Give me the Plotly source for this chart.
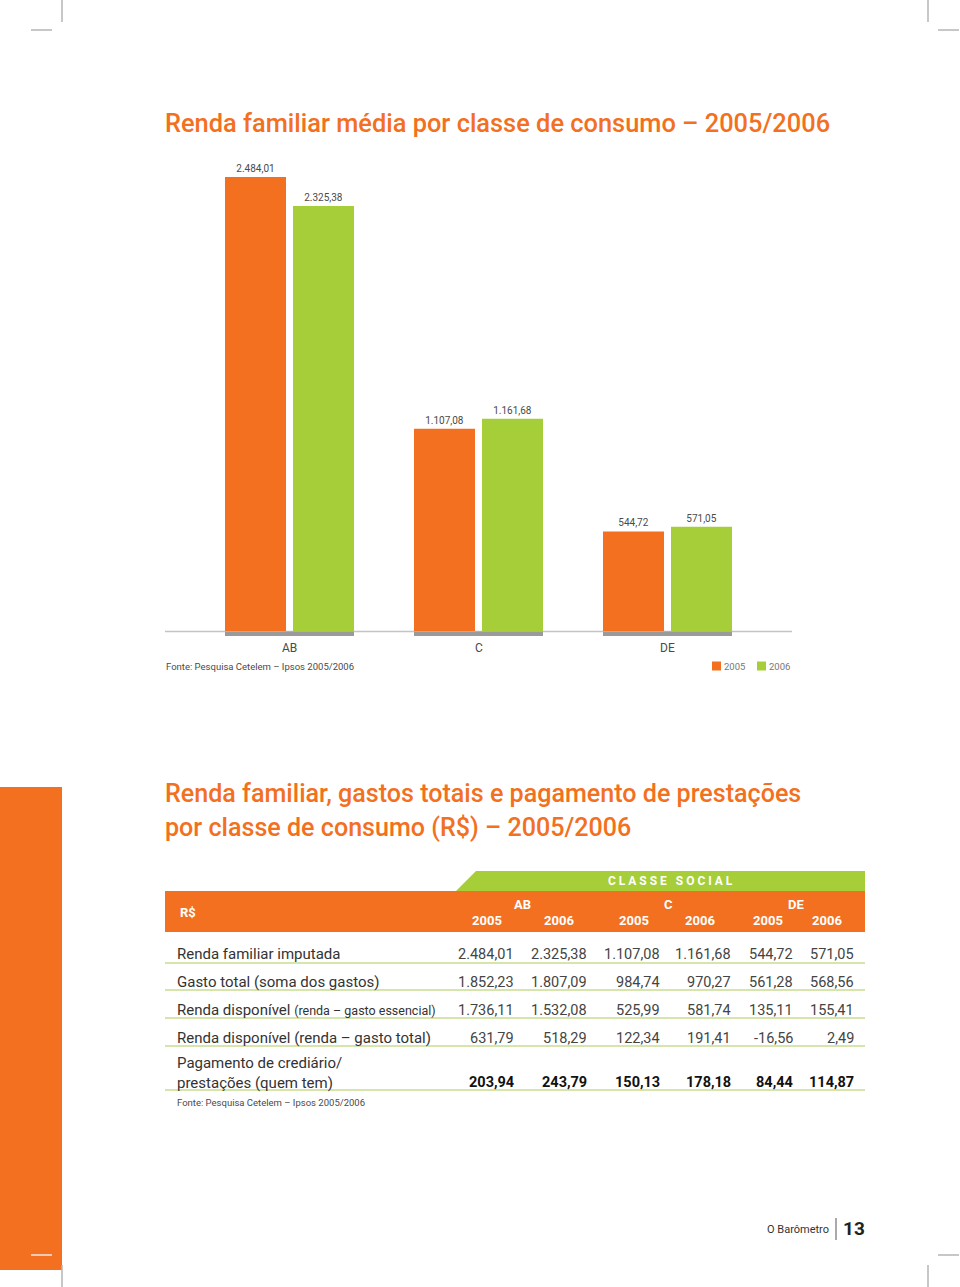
import plotly.graph_objects as go

W, H = 960, 1287
ORANGE = "#F37021"
GREEN = "#A6CE39"
GREY_TXT = "#4a4a4a"
FONT = "Roboto"

# ---- data: bar chart ----
classes = ["AB", "C", "DE"]
years = ["2005", "2006"]
renda_2005 = [2484.01, 1107.08, 544.72]
renda_2006 = [2325.38, 1161.68, 571.05]

# ---- data: table ----
row_labels = [
    "Renda familiar imputada",
    "Gasto total (soma dos gastos)",
    "Renda disponível <span style='font-size:12.5px'>(renda – gasto essencial)</span>",
    "Renda disponível (renda – gasto total)",
    "Pagamento de crediário/<br>prestações (quem tem)",
]
ab_2005 = [2484.01, 1852.23, 1736.11, 631.79, 203.94]
ab_2006 = [2325.38, 1807.09, 1532.08, 518.29, 243.79]
c_2005 = [1107.08, 984.74, 525.99, 122.34, 150.13]
c_2006 = [1161.68, 970.27, 581.74, 191.41, 178.18]
de_2005 = [544.72, 561.28, 135.11, -16.56, 84.44]
de_2006 = [571.05, 568.56, 155.41, 2.49, 114.87]
source = "Fonte: Pesquisa Cetelem – Ipsos 2005/2006"


def br(v):
    s = f"{abs(v):,.2f}"
    s = s.replace(",", "X").replace(".", ",").replace("X", ".")
    return ("-" if v < 0 else "") + s


def px(x):
    return x / W


def py(y):
    return 1 - y / H


fig = go.Figure()

# bar geometry (category units: 1 unit = 189 px)
bw = 61 / 189
off05 = -64.5 / 189
off06 = 3.5 / 189

fig.add_trace(go.Bar(
    x=list(range(len(classes))), y=renda_2005, name=years[0],
    marker=dict(color=ORANGE, line=dict(width=0)),
    width=bw, offset=off05,
    text=[br(v) for v in renda_2005], textposition="outside",
    textfont=dict(family=FONT, size=10, color=GREY_TXT), cliponaxis=False,
    showlegend=False,
))
fig.add_trace(go.Bar(
    x=list(range(len(classes))), y=renda_2006, name=years[1],
    marker=dict(color=GREEN, line=dict(width=0)),
    width=bw, offset=off06,
    text=[br(v) for v in renda_2006], textposition="outside",
    textfont=dict(family=FONT, size=10, color=GREY_TXT), cliponaxis=False,
    showlegend=False,
))

y_top_px, y_base_px = 150, 631
scale = (631 - 177) / 2484.01
ymax = (y_base_px - y_top_px) / scale

shapes = []
annotations = []

# grey bands under groups
for i in range(len(classes)):
    shapes.append(dict(type="rect", xref="x", yref="paper",
                       x0=i + off05, x1=i + off06 + bw,
                       y0=py(636), y1=py(631.5), fillcolor="#9a9a9a", line=dict(width=0)))

# axis line
shapes.append(dict(type="line", xref="paper", yref="paper", x0=px(165), x1=px(792),
                   y0=py(631.5), y1=py(631.5), line=dict(color="#c4c4c4", width=1.5), layer="below"))

# category labels
for i, c in enumerate(classes):
    annotations.append(dict(x=i, xref="x", y=py(648), yref="paper", text=c, showarrow=False,
                            font=dict(family=FONT, size=12, color=GREY_TXT), xanchor="center", yanchor="middle"))

# chart source + legend
annotations.append(dict(x=px(164), y=py(666), xref="paper", yref="paper", text=source, showarrow=False,
                        xanchor="left", yanchor="middle", font=dict(family=FONT, size=9.5, color=GREY_TXT)))
for col, lx, yr in [(ORANGE, 712, years[0]), (GREEN, 757, years[1])]:
    shapes.append(dict(type="rect", xref="paper", yref="paper", x0=px(lx), x1=px(lx + 9),
                       y0=py(670.5), y1=py(661.5), fillcolor=col, line=dict(width=0)))
    annotations.append(dict(x=px(lx + 10), y=py(666), xref="paper", yref="paper", text=yr, showarrow=False,
                            xanchor="left", yanchor="middle", font=dict(family=FONT, size=9.5, color="#777")))

# titles
title_font = dict(family=FONT, size=25.4, color=ORANGE, weight=500)
title_font2 = dict(family=FONT, size=25.1, color=ORANGE, weight=500)
annotations.append(dict(x=px(163), y=py(123), xref="paper", yref="paper",
                        text="Renda familiar média por classe de consumo – 2005/2006", showarrow=False,
                        xanchor="left", yanchor="middle", font=title_font))
annotations.append(dict(x=px(163), y=py(793), xref="paper", yref="paper",
                        text="Renda familiar, gastos totais e pagamento de prestações", showarrow=False,
                        xanchor="left", yanchor="middle", font=title_font2))
annotations.append(dict(x=px(163), y=py(827), xref="paper", yref="paper",
                        text="por classe de consumo (R$) – 2005/2006", showarrow=False,
                        xanchor="left", yanchor="middle", font=title_font2))

# table header
shapes.append(dict(type="path", xref="paper", yref="paper",
                   path=f"M {px(456)} {py(891)} L {px(476)} {py(871)} L {px(865)} {py(871)} L {px(865)} {py(891)} Z",
                   fillcolor=GREEN, line=dict(width=0)))
shapes.append(dict(type="rect", xref="paper", yref="paper", x0=px(165), x1=px(865),
                   y0=py(932), y1=py(891), fillcolor=ORANGE, line=dict(width=0)))
hdr_font = dict(family=FONT, size=13, color="white", weight="bold")
annotations.append(dict(x=px(670), y=py(881), xref="paper", yref="paper", text="C L A S S E   S O C I A L",
                        showarrow=False, xanchor="center", yanchor="middle",
                        font=dict(family=FONT, size=12, color="white", weight="bold")))
annotations.append(dict(x=px(178), y=py(912), xref="paper", yref="paper", text="R$", showarrow=False,
                        xanchor="left", yanchor="middle", font=hdr_font))
class_x = [522, 668, 796]
for c, cx in zip(classes, class_x):
    annotations.append(dict(x=px(cx), y=py(904), xref="paper", yref="paper", text=c, showarrow=False,
                            xanchor="center", yanchor="middle", font=hdr_font))
year_x = [487, 559, 634, 700, 768, 827]
for i, yx in enumerate(year_x):
    annotations.append(dict(x=px(yx), y=py(920), xref="paper", yref="paper", text=years[i % 2], showarrow=False,
                            xanchor="center", yanchor="middle", font=hdr_font))

# table body
cols = [ab_2005, ab_2006, c_2005, c_2006, de_2005, de_2006]
col_right = [516, 589, 662, 733, 795, 856]
row_y = [954, 982, 1010, 1038, 1082]
label_y = [954, 982, 1010, 1038, 1073]
line_y = [963, 990, 1018, 1046, 1090]
for r, lab in enumerate(row_labels):
    bold = r == len(row_labels) - 1
    annotations.append(dict(x=px(175), y=py(label_y[r]), xref="paper", yref="paper", text=lab, showarrow=False,
                            xanchor="left", yanchor="middle", align="left",
                            font=dict(family=FONT, size=15, color="#333")))
    for ci, col in enumerate(cols):
        annotations.append(dict(x=px(col_right[ci]), y=py(row_y[r]), xref="paper", yref="paper",
                                text=br(col[r]), showarrow=False, xanchor="right", yanchor="middle",
                                font=dict(family=FONT, size=14.5, color="#111" if bold else "#444",
                                          weight="bold" if bold else "normal")))
    shapes.append(dict(type="line", xref="paper", yref="paper", x0=px(165), x1=px(865),
                       y0=py(line_y[r]), y1=py(line_y[r]), line=dict(color="#c9dc8f", width=1.5)))
annotations.append(dict(x=px(175), y=py(1102), xref="paper", yref="paper", text=source, showarrow=False,
                        xanchor="left", yanchor="middle", font=dict(family=FONT, size=9.5, color=GREY_TXT)))

# left orange strip
shapes.append(dict(type="rect", xref="paper", yref="paper", x0=0, x1=px(62), y0=py(1270), y1=py(787),
                   fillcolor=ORANGE, line=dict(width=0), layer="below"))

# crop marks
for (x0, y0, x1, y1, color) in [
    (62, 0, 62, 22, "#b5b5b5"), (31, 30, 52, 30, "#b5b5b5"),
    (928, 0, 928, 22, "#b5b5b5"), (938, 30, 959, 30, "#b5b5b5"),
    (31, 1255, 52, 1255, "#e8e8e8"), (62, 1265, 62, 1287, "#b5b5b5"),
    (938, 1255, 959, 1255, "#b5b5b5"), (928, 1265, 928, 1287, "#b5b5b5"),
]:
    shapes.append(dict(type="line", xref="paper", yref="paper", x0=px(x0), x1=px(x1), y0=py(y0), y1=py(y1),
                       line=dict(color=color, width=1.5)))

# footer
annotations.append(dict(x=px(831), y=py(1229), xref="paper", yref="paper", text="O Barômetro", showarrow=False,
                        xanchor="right", yanchor="middle", font=dict(family=FONT, size=11, color="#333")))
shapes.append(dict(type="line", xref="paper", yref="paper", x0=px(836), x1=px(836), y0=py(1218), y1=py(1240),
                   line=dict(color="#555", width=1)))
annotations.append(dict(x=px(841), y=py(1228), xref="paper", yref="paper", text="13", showarrow=False,
                        xanchor="left", yanchor="middle", font=dict(family=FONT, size=19, color="#222", weight="bold")))

fig.update_layout(
    width=W, height=H, margin=dict(l=0, r=0, t=0, b=0),
    paper_bgcolor="white", plot_bgcolor="white",
    barmode="overlay",
    xaxis=dict(domain=[px(165), px(792)], range=[-124.5 / 189, 2 + 124.5 / 189],
               showticklabels=False, showgrid=False, zeroline=False, showline=False, fixedrange=True),
    yaxis=dict(domain=[py(y_base_px), py(y_top_px)], range=[0, ymax],
               showticklabels=False, showgrid=False, zeroline=False, showline=False),
    shapes=shapes, annotations=annotations,
    font=dict(family=FONT),
)

fig.write_html("out.html", config={"displayModeBar": False},
               post_script="document.body.style.margin='0';document.body.style.overflow='hidden';")
